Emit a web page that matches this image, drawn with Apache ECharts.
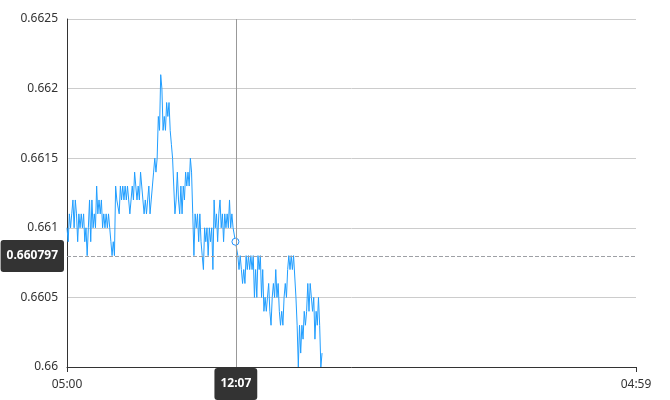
<!DOCTYPE html>
<html>
<head>
<meta charset="utf-8">
<script src="https://cdn.jsdelivr.net/npm/echarts@6/dist/echarts.min.js"></script>
<style>html,body{margin:0;padding:0;background:#fff}#main{width:670px;height:400px}</style>
</head>
<body>
<div id="main"></div>
<script>
// minutes after 05:00, sampled every 3 minutes
const startHour = 5;
const stepMinutes = 3;
const xTickLabels = ['05:00', '04:59'];
const values = [
  0.6610,0.6609,0.6611,0.6610,0.6611,0.6612,0.6610,0.6612,0.6611,0.6609,
  0.6611,0.6610,0.6611,0.6610,0.6611,0.6609,0.6610,0.6608,0.6610,0.6612,
  0.6609,0.6612,0.6610,0.6611,0.6610,0.6613,0.6611,0.6612,0.6611,0.6612,
  0.6610,0.6611,0.6610,0.6611,0.6610,0.6611,0.6610,0.6609,0.6608,0.6609,
  0.6608,0.6613,0.6612,0.6612,0.6611,0.6613,0.6612,0.6613,0.6612,0.6613,
  0.6612,0.6613,0.6612,0.6611,0.6612,0.6613,0.6612,0.6614,0.6613,0.6612,
  0.6613,0.6612,0.6614,0.6613,0.6612,0.6611,0.6612,0.6611,0.6612,0.6613,
  0.6611,0.6612,0.6613,0.6614,0.6615,0.6614,0.6615,0.6618,0.6617,0.6621,
  0.6620,0.6617,0.6618,0.6617,0.6619,0.6618,0.6619,0.6617,0.6616,0.6615,
  0.6613,0.6611,0.6612,0.6614,0.6612,0.6611,0.6613,0.6611,0.6613,0.6612,
  0.6614,0.6613,0.6614,0.6613,0.6615,0.6614,0.6611,0.6608,0.6611,0.6610,
  0.6611,0.6609,0.6611,0.6609,0.6608,0.6607,0.6610,0.6609,0.6610,0.6608,
  0.6610,0.6609,0.6610,0.6607,0.6612,0.6610,0.6611,0.6609,0.6611,0.6612,
  0.6610,0.6611,0.6609,0.6611,0.6610,0.6611,0.6610,0.6612,0.6610,0.6611,
  0.6610,0.6610,0.6609,0.6609,0.6608,0.6607,0.6608,0.6607,0.6606,0.6607,
  0.6606,0.6608,0.6607,0.6608,0.6607,0.6608,0.6607,0.6608,0.6605,0.6607,
  0.6605,0.6608,0.6607,0.6608,0.6605,0.6607,0.6604,0.6605,0.6604,0.6605,
  0.6606,0.6604,0.6603,0.6605,0.6606,0.6605,0.6607,0.6605,0.6606,0.6604,
  0.6603,0.6604,0.6603,0.6605,0.6606,0.6605,0.6607,0.6608,0.6607,0.6608,
  0.6607,0.6608,0.6608,0.6605,0.6603,0.6600,0.6603,0.6601,0.6603,0.6602,
  0.6604,0.6603,0.6604,0.6606,0.6604,0.6606,0.6605,0.6604,0.6605,0.6602,
  0.6604,0.6603,0.6605,0.6603,0.6600,0.6601
];
const pointerTime = 427;      // 12:07
const pointerValue = 0.660797;

function fmtTime(m) {
  const t = (startHour * 60 + Math.round(m)) % 1440;
  const h = Math.floor(t / 60), mm = t % 60;
  return (h < 10 ? '0' : '') + h + ':' + (mm < 10 ? '0' : '') + mm;
}

const seriesData = values.map((v, i) => [i * stepMinutes, v]);

const chart = echarts.init(document.getElementById('main'), null, {renderer: 'canvas'});
chart.setOption({
  animation: false,
  textStyle: {fontFamily: 'Noto Sans'},
  grid: {left: 67, right: 34, top: 19, bottom: 33},
  tooltip: {
    trigger: 'axis',
    showContent: false,
    axisPointer: {
      type: 'cross',
      label: {backgroundColor: '#333', color: '#fff', fontWeight: 'bold', fontSize: 12, padding: [10, 6]}
    }
  },
  xAxis: {
    type: 'value',
    min: 0, max: 1439, interval: 1439,
    splitLine: {show: false},
    axisLine: {show: true, lineStyle: {color: '#333'}},
    axisTick: {show: true, lineStyle: {color: '#333'}},
    axisLabel: {color: '#333', fontSize: 12, margin: 12,
      formatter: v => (v === 0 ? xTickLabels[0] : xTickLabels[1])},
    axisPointer: {
      snap: false,
      lineStyle: {color: '#999', width: 1, type: 'solid'},
      label: {formatter: p => fmtTime(p.value), backgroundColor: '#333', padding: [10, 6]}
    }
  },
  yAxis: {
    type: 'value',
    min: 0.66, max: 0.6625, interval: 0.0005,
    axisLine: {show: true, lineStyle: {color: '#333'}},
    axisTick: {show: false},
    axisLabel: {color: '#333', fontSize: 12, margin: 9},
    splitLine: {lineStyle: {color: '#ccc'}},
    axisPointer: {
      snap: false,
      label: {formatter: p => Number(p.value).toFixed(6), backgroundColor: '#333', padding: [10, 6]}
    }
  },
  series: [{
    type: 'line',
    data: seriesData,
    showSymbol: false,
    symbol: 'emptyCircle',
    symbolSize: 7,
    lineStyle: {color: '#1e90ff', width: 1},
    itemStyle: {color: '#1e90ff', borderWidth: 1},
    emphasis: {scale: false, itemStyle: {borderWidth: 1}}
  }]
});

const px = chart.convertToPixel({gridIndex: 0}, [pointerTime, pointerValue]);
chart.dispatchAction({type: 'showTip', x: px[0], y: px[1]});
</script>
</body>
</html>
